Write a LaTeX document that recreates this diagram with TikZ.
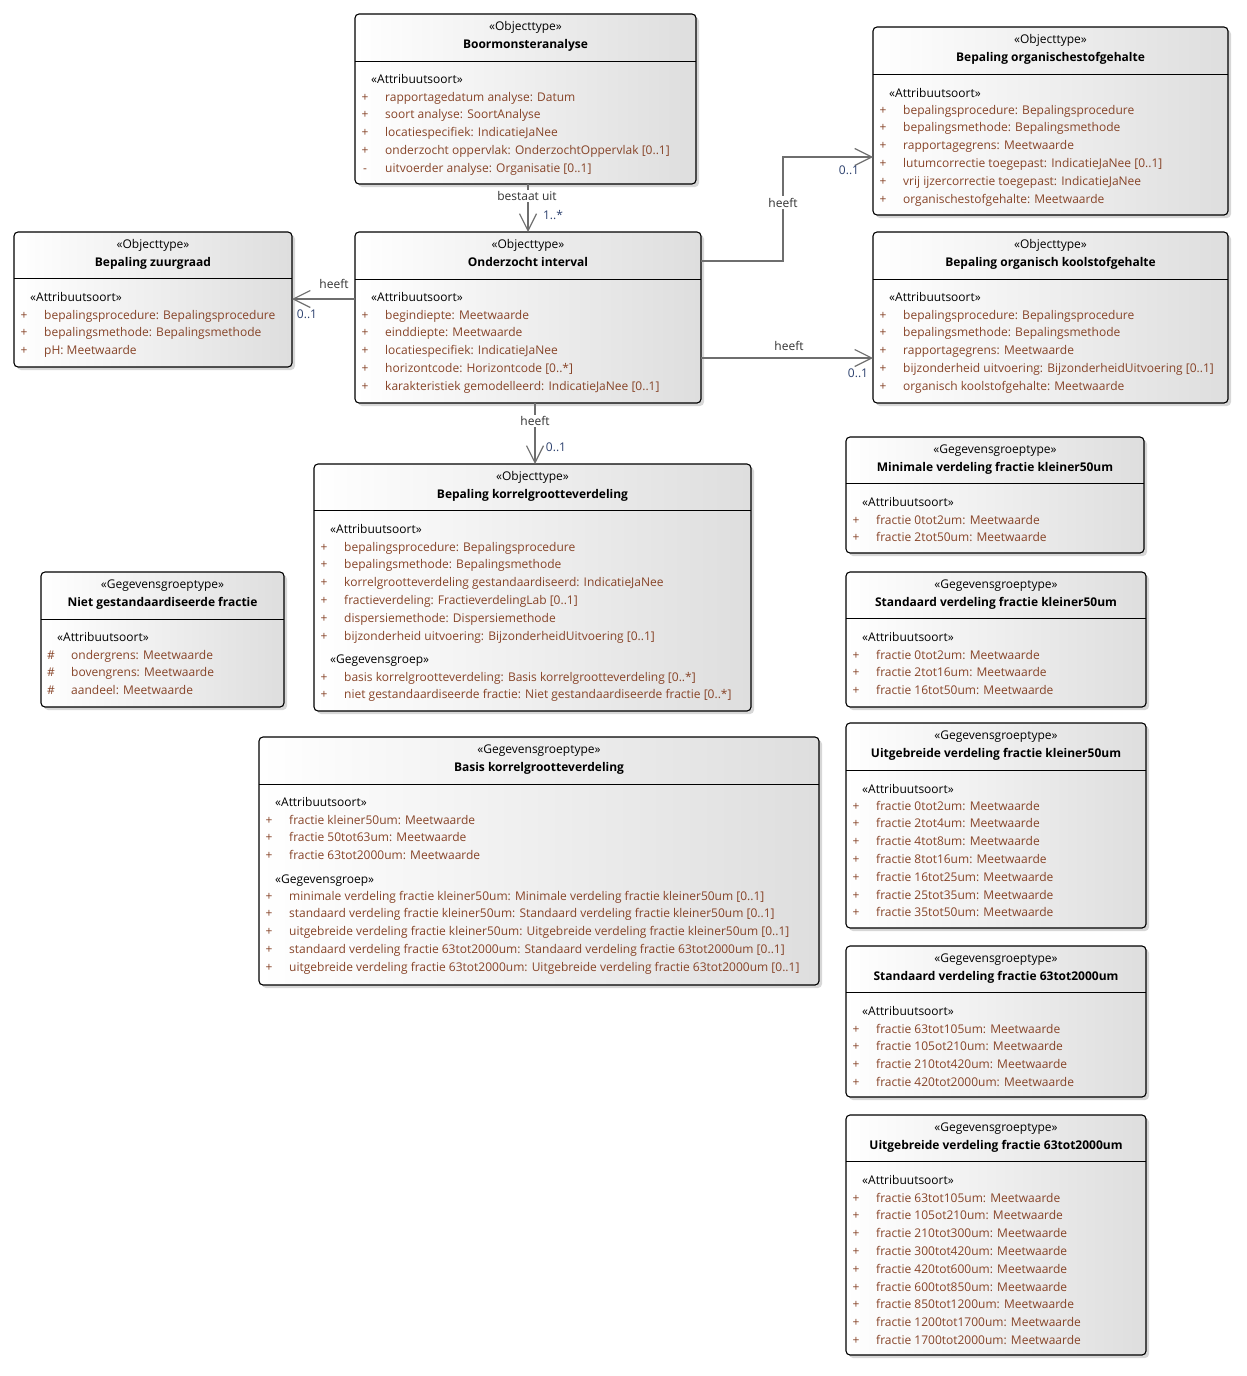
\documentclass[tikz,border=0pt]{standalone}
\usepackage{fontspec}
\setmainfont{Open Sans}
\usetikzlibrary{arrows.meta,shadows}
\definecolor{attrc}{RGB}{135,68,40}
\definecolor{multc}{RGB}{45,65,110}
\definecolor{linec}{RGB}{110,110,110}
\definecolor{lblc}{RGB}{50,50,50}
\newcommand\fnt{\fontsize{12}{14}\selectfont}
\tikzset{
  umlbox/.style={draw=black, line width=1.1pt, rounded corners=4pt, left color=white, right color=black!13,
    inner sep=0pt, outer sep=0pt,
    drop shadow={shadow xshift=3pt, shadow yshift=-3pt, fill=black!35, opacity=0.45}},
  divline/.style={draw=black, line width=0.9pt},
  txt/.style={font=\fnt, inner sep=0pt, yshift=-1.5pt},
  ster/.style={txt, anchor=mid, text=black},
  ttl/.style={txt, font=\fnt\bfseries, anchor=mid, text=black},
  grp/.style={txt, anchor=mid west, text=black},
  sgn/.style={txt, anchor=mid, text=attrc},
  atx/.style={txt, anchor=mid west, text=attrc},
  conn/.style={draw=linec, line width=1.2pt, -{Straight Barb[length=17pt,width=17pt,line width=1.2pt]}},
  lbl/.style={font=\fnt, inner sep=1.5pt, anchor=mid, text=lblc, yshift=-1.5pt},
  mult/.style={txt, anchor=mid, text=multc},
}
% #1 name, #2 x1, #3 y1, #4 x2, #5 y2, #6 divider y, #7 stereotype y, #8 stereotype, #9 title
\newcommand\umlBox[9]{%
  \node[umlbox, minimum width=#4pt-#2pt, minimum height=#5pt-#3pt, anchor=north west] (#1) at (#2,#3) {};
  \draw[divline] (#1.west |- 0,#6) -- (#1.east |- 0,#6);
  \node[ster] (#1-st) at (#1.north |- 0,#7) {«#8»};
  \node[ttl] (#1-ti) at (#1.north |- 0,#7+18) {#9};
}
% #1 name, #2 box left x, #3 y of group label, #4 group label
\newcommand\grpLabel[4]{\node[grp] (#1) at (#2+16,#3) {«#4»};}
% #1 name prefix, #2 box left x, #3 first y, #4 sign, #5 list
\newcommand\attrList[5]{%
  \foreach \t [count=\i from 0] in {#5} {
    \node[sgn] (#1-s\i) at (#2+10,#3+17.8*\i) {#4};
    \node[atx] (#1-t\i) at (#2+30,#3+17.8*\i) {\t};
  }}
\begin{document}
\begin{tikzpicture}[x=1pt,y=-1pt]
\useasboundingbox (0,0) rectangle (1247,1376);

% Boormonsteranalyse
\umlBox{bm}{355}{14}{696}{184}{61}{26}{Objecttype}{Boormonsteranalyse}
\grpLabel{bm-g}{355}{79}{Attribuutsoort}
\attrList{bm}{355}{97}{+}{rapportagedatum analyse: Datum, soort analyse: SoortAnalyse, locatiespecifiek: IndicatieJaNee, onderzocht oppervlak: OnderzochtOppervlak [0..1]}
\node[sgn] (bm-s4) at (365,168) {-};
\node[atx] (bm-t4) at (385,168) {uitvoerder analyse: Organisatie [0..1]};

% Bepaling organischestofgehalte
\umlBox{bos}{873}{27}{1228}{215}{74}{39}{Objecttype}{Bepaling organischestofgehalte}
\grpLabel{bos-g}{873}{93}{Attribuutsoort}
\attrList{bos}{873}{110}{+}{bepalingsprocedure: Bepalingsprocedure, bepalingsmethode: Bepalingsmethode, rapportagegrens: Meetwaarde, lutumcorrectie toegepast: IndicatieJaNee [0..1], vrij ijzercorrectie toegepast: IndicatieJaNee, organischestofgehalte: Meetwaarde}

% Bepaling organisch koolstofgehalte
\umlBox{bok}{873}{232}{1228}{403}{279}{244}{Objecttype}{Bepaling organisch koolstofgehalte}
\grpLabel{bok-g}{873}{297}{Attribuutsoort}
\attrList{bok}{873}{315}{+}{bepalingsprocedure: Bepalingsprocedure, bepalingsmethode: Bepalingsmethode, rapportagegrens: Meetwaarde, bijzonderheid uitvoering: BijzonderheidUitvoering [0..1], organisch koolstofgehalte: Meetwaarde}

% Bepaling zuurgraad
\umlBox{bz}{14}{232}{292}{367}{278}{244}{Objecttype}{Bepaling zuurgraad}
\grpLabel{bz-g}{14}{297}{Attribuutsoort}
\attrList{bz}{14}{315}{+}{bepalingsprocedure: Bepalingsprocedure, bepalingsmethode: Bepalingsmethode, pH: Meetwaarde}

% Onderzocht interval
\umlBox{oi}{355}{232}{701}{403}{279}{244}{Objecttype}{Onderzocht interval}
\grpLabel{oi-g}{355}{297}{Attribuutsoort}
\attrList{oi}{355}{315}{+}{begindiepte: Meetwaarde, einddiepte: Meetwaarde, locatiespecifiek: IndicatieJaNee, horizontcode: Horizontcode [0..*], karakteristiek gemodelleerd: IndicatieJaNee [0..1]}

% Bepaling korrelgrootteverdeling
\umlBox{bk}{314}{464}{751}{711}{510}{476}{Objecttype}{Bepaling korrelgrootteverdeling}
\grpLabel{bk-g}{314}{529}{Attribuutsoort}
\attrList{bk}{314}{547}{+}{bepalingsprocedure: Bepalingsprocedure, bepalingsmethode: Bepalingsmethode, korrelgrootteverdeling gestandaardiseerd: IndicatieJaNee, fractieverdeling: FractieverdelingLab [0..1], dispersiemethode: Dispersiemethode, bijzonderheid uitvoering: BijzonderheidUitvoering [0..1]}
\grpLabel{bk-h}{314}{659}{Gegevensgroep}
\attrList{bkg}{314}{677}{+}{basis korrelgrootteverdeling: Basis korrelgrootteverdeling [0..*], niet gestandaardiseerde fractie: Niet gestandaardiseerde fractie [0..*]}

% Niet gestandaardiseerde fractie
\umlBox{ng}{41}{572}{284}{707}{619}{584}{Gegevensgroeptype}{Niet gestandaardiseerde fractie}
\grpLabel{ng-g}{41}{637}{Attribuutsoort}
\attrList{ng}{41}{655}{\#}{ondergrens: Meetwaarde, bovengrens: Meetwaarde, aandeel: Meetwaarde}

% Basis korrelgrootteverdeling
\umlBox{bb}{259}{737}{819}{985}{784}{749}{Gegevensgroeptype}{Basis korrelgrootteverdeling}
\grpLabel{bb-g}{259}{802}{Attribuutsoort}
\attrList{bb}{259}{820}{+}{fractie kleiner50um: Meetwaarde, fractie 50tot63um: Meetwaarde, fractie 63tot2000um: Meetwaarde}
\grpLabel{bb-h}{259}{879}{Gegevensgroep}
\attrList{bbg}{259}{896}{+}{minimale verdeling fractie kleiner50um: Minimale verdeling fractie kleiner50um [0..1], standaard verdeling fractie kleiner50um: Standaard verdeling fractie kleiner50um [0..1], uitgebreide verdeling fractie kleiner50um: Uitgebreide verdeling fractie kleiner50um [0..1], standaard verdeling fractie 63tot2000um: Standaard verdeling fractie 63tot2000um [0..1], uitgebreide verdeling fractie 63tot2000um: Uitgebreide verdeling fractie 63tot2000um [0..1]}

% Minimale verdeling fractie kleiner50um
\umlBox{mv}{846}{437}{1144}{553}{483}{449}{Gegevensgroeptype}{Minimale verdeling fractie kleiner50um}
\grpLabel{mv-g}{846}{502}{Attribuutsoort}
\attrList{mv}{846}{520}{+}{fractie 0tot2um: Meetwaarde, fractie 2tot50um: Meetwaarde}

% Standaard verdeling fractie kleiner50um
\umlBox{sk}{846}{572}{1146}{707}{618}{584}{Gegevensgroeptype}{Standaard verdeling fractie kleiner50um}
\grpLabel{sk-g}{846}{637}{Attribuutsoort}
\attrList{sk}{846}{655}{+}{fractie 0tot2um: Meetwaarde, fractie 2tot16um: Meetwaarde, fractie 16tot50um: Meetwaarde}

% Uitgebreide verdeling fractie kleiner50um
\umlBox{uk}{846}{723}{1146}{928}{770}{735}{Gegevensgroeptype}{Uitgebreide verdeling fractie kleiner50um}
\grpLabel{uk-g}{846}{789}{Attribuutsoort}
\attrList{uk}{846}{806}{+}{fractie 0tot2um: Meetwaarde, fractie 2tot4um: Meetwaarde, fractie 4tot8um: Meetwaarde, fractie 8tot16um: Meetwaarde, fractie 16tot25um: Meetwaarde, fractie 25tot35um: Meetwaarde, fractie 35tot50um: Meetwaarde}

% Standaard verdeling fractie 63tot2000um
\umlBox{s63}{846}{946}{1146}{1097}{992}{958}{Gegevensgroeptype}{Standaard verdeling fractie 63tot2000um}
\grpLabel{s63-g}{846}{1011}{Attribuutsoort}
\attrList{s63}{846}{1029}{+}{fractie 63tot105um: Meetwaarde, fractie 105ot210um: Meetwaarde, fractie 210tot420um: Meetwaarde, fractie 420tot2000um: Meetwaarde}

% Uitgebreide verdeling fractie 63tot2000um
\umlBox{u63}{846}{1115}{1146}{1355}{1161}{1127}{Gegevensgroeptype}{Uitgebreide verdeling fractie 63tot2000um}
\grpLabel{u63-g}{846}{1180}{Attribuutsoort}
\attrList{u63}{846}{1198}{+}{fractie 63tot105um: Meetwaarde, fractie 105ot210um: Meetwaarde, fractie 210tot300um: Meetwaarde, fractie 300tot420um: Meetwaarde, fractie 420tot600um: Meetwaarde, fractie 600tot850um: Meetwaarde, fractie 850tot1200um: Meetwaarde, fractie 1200tot1700um: Meetwaarde, fractie 1700tot2000um: Meetwaarde}

% Connectors
\draw[conn] (bm.south -| oi.north) -- (oi.north);
\node[lbl, fill=white] (l1) at (527,196) {bestaat uit};
\node[mult] (m1) at (553,215) {1..*};

\draw[conn] (oi.east |- 0,261) -- (783,261) -- (783,157) -- (bos.west |- 0,157);
\node[lbl, fill=white] (l2) at (783,203) {heeft};
\node[mult] (m2) at (849,170) {0..1};

\draw[conn] (oi.east |- 0,358) -- (bok.west |- 0,358);
\node[lbl] (l3) at (789,346) {heeft};
\node[mult] (m3) at (858,373) {0..1};

\draw[conn] (oi.west |- 0,299) -- (bz.east |- 0,299);
\node[lbl] (l4) at (334,284) {heeft};
\node[mult] (m4) at (307,314) {0..1};

\draw[conn] (oi.south -| 535,0) -- (bk.north -| 535,0);
\node[lbl, fill=white] (l5) at (535,421) {heeft};
\node[mult] (m5) at (556,447) {0..1};
\end{tikzpicture}
\end{document}
